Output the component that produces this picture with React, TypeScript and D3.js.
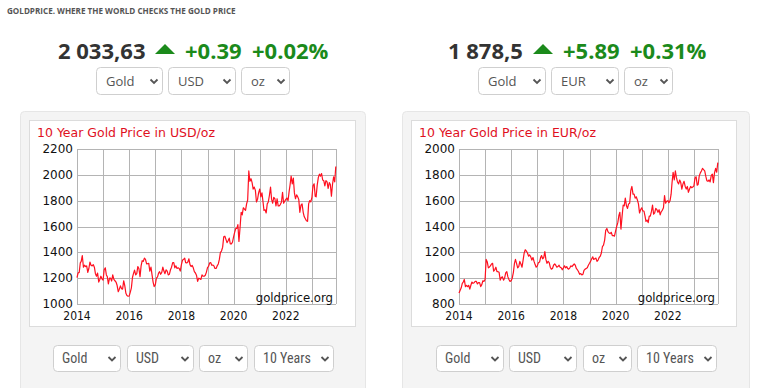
import React from 'react';
import * as d3 from 'd3';

const headline = 'GOLDPRICE. WHERE THE WORLD CHECKS THE GOLD PRICE';

// prices, twice a month (1st and 16th) from Jan 2014
const usdPrices = [
  // 2014
  1205, 1240, 1245, 1318, 1330, 1375, 1285, 1300, 1290, 1295, 1245, 1275,
  1325, 1300, 1295, 1305, 1285, 1235, 1215, 1240, 1170, 1190, 1215, 1195,
  // 2015
  1185, 1265, 1280, 1225, 1212, 1155, 1200, 1200, 1178, 1225, 1190, 1180,
  1170, 1145, 1095, 1115, 1140, 1118, 1115, 1180, 1140, 1083, 1065, 1060,
  // 2016
  1062, 1090, 1125, 1205, 1235, 1262, 1225, 1235, 1290, 1275, 1212, 1295,
  1335, 1330, 1355, 1345, 1310, 1312, 1315, 1255, 1285, 1225, 1170, 1135,
  // 2017
  1150, 1200, 1210, 1240, 1250, 1230, 1245, 1285, 1255, 1235, 1265, 1255,
  1225, 1230, 1265, 1285, 1320, 1320, 1280, 1295, 1275, 1280, 1275, 1255,
  // 2018
  1305, 1340, 1345, 1355, 1320, 1318, 1325, 1350, 1305, 1290, 1298, 1280,
  1250, 1240, 1220, 1175, 1200, 1195, 1190, 1225, 1215, 1215, 1222, 1245,
  // 2019
  1282, 1292, 1318, 1320, 1300, 1302, 1295, 1275, 1275, 1295, 1310, 1345,
  1400, 1410, 1440, 1520, 1525, 1500, 1475, 1490, 1510, 1465, 1465, 1478,
  // 2020
  1520, 1555, 1585, 1585, 1615, 1485, 1595, 1710, 1690, 1745, 1735, 1725,
  1775, 1805, 2030, 1950, 1970, 1940, 1890, 1905, 1880, 1790, 1810, 1860,
  // 2021
  1890, 1830, 1860, 1790, 1725, 1730, 1705, 1775, 1790, 1840, 1905, 1810,
  1780, 1825, 1815, 1760, 1815, 1760, 1760, 1770, 1790, 1865, 1780, 1795,
  // 2022
  1810, 1820, 1800, 1870, 1920, 1990, 1930, 1975, 1860, 1815, 1845, 1830,
  1810, 1710, 1765, 1775, 1710, 1675, 1660, 1645, 1640, 1775, 1800, 1790,
  // 2023
  1825, 1915, 1930, 1835, 1830, 1920, 1980, 2005, 1990, 2010, 1960, 1955,
  1915, 1955, 1945, 1895, 1940, 1925, 1835, 1925, 1985, 1945, 2065,
];

const eurPrices = [
  // 2014
  885, 905, 925, 960, 970, 990, 935, 945, 935, 945, 915, 945,
  970, 960, 965, 975, 975, 955, 965, 965, 935, 950, 980, 975,
  // 2015
  990, 1145, 1125, 1080, 1085, 1095, 1110, 1115, 1055, 1065, 1085, 1050,
  1050, 1045, 985, 1005, 1010, 985, 1000, 1040, 1050, 1010, 990, 975,
  // 2016
  980, 1000, 1045, 1115, 1145, 1115, 1080, 1090, 1130, 1110, 1085, 1140,
  1195, 1220, 1210, 1195, 1170, 1180, 1165, 1140, 1160, 1130, 1105, 1085,
  // 2017
  1095, 1120, 1125, 1160, 1175, 1150, 1160, 1205, 1145, 1115, 1130, 1120,
  1085, 1070, 1075, 1100, 1110, 1100, 1085, 1090, 1100, 1085, 1080, 1065,
  // 2018
  1080, 1095, 1080, 1090, 1075, 1070, 1080, 1095, 1090, 1100, 1110, 1100,
  1075, 1065, 1050, 1030, 1035, 1025, 1030, 1060, 1070, 1075, 1080, 1100,
  // 2019
  1115, 1130, 1150, 1165, 1145, 1150, 1155, 1130, 1140, 1160, 1170, 1195,
  1245, 1255, 1295, 1370, 1385, 1360, 1350, 1345, 1355, 1330, 1330, 1325,
  // 2020
  1365, 1400, 1430, 1485, 1510, 1380, 1480, 1565, 1560, 1620, 1560, 1540,
  1575, 1580, 1680, 1710, 1650, 1650, 1620, 1630, 1605, 1575, 1505, 1530,
  // 2021
  1545, 1520, 1520, 1480, 1440, 1450, 1430, 1480, 1480, 1515, 1565, 1495,
  1505, 1540, 1530, 1510, 1530, 1490, 1515, 1525, 1545, 1640, 1580, 1595,
  // 2022
  1600, 1585, 1600, 1650, 1740, 1820, 1760, 1830, 1780, 1745, 1730, 1760,
  1740, 1690, 1730, 1750, 1710, 1690, 1710, 1665, 1690, 1710, 1700, 1705,
  // 2023
  1715, 1775, 1785, 1720, 1725, 1790, 1815, 1830, 1850, 1840, 1830, 1790,
  1755, 1750, 1760, 1745, 1795, 1805, 1740, 1815, 1850, 1820, 1895,
];

const gridYears = [2014, 2015, 2016, 2017, 2018, 2019, 2020, 2021, 2022, 2023];
const yearLabels = [2014, 2016, 2018, 2020, 2022];
const usdTicks = [1000, 1200, 1400, 1600, 1800, 2000, 2200];
const eurTicks = [800, 1000, 1200, 1400, 1600, 1800, 2000];

const usdQuote = { price: '2 033,63', change: '+0.39', pct: '+0.02%' };
const eurQuote = { price: '1 878,5', change: '+5.89', pct: '+0.31%' };

const OPEN = '"Open Sans", "Noto Sans", sans-serif';
const VERD = '"DejaVu Sans", Verdana, sans-serif';
const VERD_C = '"DejaVu Sans Condensed", "DejaVu Sans", sans-serif';
const NARROW = '"Liberation Sans Narrow", "Roboto Condensed", "Liberation Sans", sans-serif';
const GREEN = '#1b8a1b';

const sampleDate = (i: number) => new Date(2014, Math.floor(i / 2), i % 2 ? 16 : 1);

function Select({ x, y, w, h, label, narrow = false }: any) {
  const cx = x + w - 9, cy = y + h / 2;
  return (
    <g>
      <rect x={x + 0.5} y={y + 0.5} width={w - 1} height={h - 1} rx={4}
        fill="#fff" stroke="#cfcfcf" />
      <text x={x + (narrow ? 9 : 10)} y={cy + 4.5} fontFamily={narrow ? NARROW : OPEN}
        fontSize={narrow ? 14 : 13} fill="#555">{label}</text>
      <polyline points={`${cx - 3.5},${cy - 1.5} ${cx},${cy + 2} ${cx + 3.5},${cy - 1.5}`}
        fill="none" stroke="#555" strokeWidth={1.8} />
    </g>
  );
}

function Quote({ x, q }: any) {
  const shift = q.price.length > 7 ? 12 : 0;
  return (
    <g fontFamily={OPEN} fontWeight={700} fontSize={22}>
      <text x={x} y={59} fill="#333">{q.price}</text>
      <path d={`M${x + 85 + shift},54 l10,-10 l10,10 z`} fill={GREEN} />
      <text x={x + 115 + shift} y={59} fill={GREEN}>{q.change}</text>
      <text x={x + 182 + shift} y={59} fill={GREEN}>{q.pct}</text>
    </g>
  );
}

function PriceChart({ px, left, currency, prices, ticks }: any) {
  const right = left + 259, top = 149, bottom = 304;
  const x = d3.scaleTime()
    .domain([new Date(2014, 0, 1), new Date(2023, 11, 4)])
    .range([left, right]);
  const y = d3.scaleLinear().domain([ticks[0], ticks[ticks.length - 1]]).range([bottom, top]);
  const line = d3.line<number>()
    .x((_, i) => x(sampleDate(i)))
    .y(d => y(d));

  return (
    <g>
      <rect x={px + 0.5} y={111.5} width={px > 300 ? 347 : 345} height={300} rx={4}
        fill="#f4f4f4" stroke="#e6e6e6" />
      <rect x={px + 9.5} y={120.5} width={px > 300 ? 325 : 326} height={206}
        fill="#fff" stroke="#dcdcdc" />
      <text x={px + 17} y={137} fontFamily={VERD} fontSize={12.5} fill="#e0101e">
        10 Year Gold Price in {currency}/oz
      </text>
      {ticks.map((t: number) => (
        <line key={t} x1={left} x2={right} y1={Math.round(y(t)) + 0.5} y2={Math.round(y(t)) + 0.5}
          stroke="#b4b4b4" />
      ))}
      {gridYears.map(yr => {
        const gx = Math.round(x(new Date(yr, 0, 1))) + 0.5;
        return <line key={yr} x1={gx} x2={gx} y1={top} y2={bottom} stroke="#b4b4b4" />;
      })}
      <line x1={right + 0.5} x2={right + 0.5} y1={top} y2={bottom} stroke="#b4b4b4" />
      {ticks.map((t: number) => (
        <text key={t} x={left - 4} y={y(t) + 4} textAnchor="end" fontFamily={VERD}
          fontSize={12} fill="#111">{t}</text>
      ))}
      {yearLabels.map(yr => (
        <text key={yr} x={x(new Date(yr, 0, 1))} y={320} textAnchor="middle"
          fontFamily={VERD_C} fontSize={12} fill="#111">{yr}</text>
      ))}
      <text x={right - 3} y={302} textAnchor="end" fontFamily={VERD_C} fontSize={13}
        fill="#111">goldprice.org</text>
      <path d={line(prices) || ''} fill="none" stroke="#ff1020" strokeWidth={1.2}
        strokeLinejoin="round" />
    </g>
  );
}

export default function App() {
  return (
    <svg width={758} height={388} style={{ position: 'absolute', left: 0, top: 0, background: '#fff' }}>
      <text x={7} y={14} fontFamily={OPEN} fontWeight={700} fontSize={8.1} fill="#555">{headline}</text>

      <Quote x={58} q={usdQuote} />
      <Select x={96} y={67} w={67} h={28} label="Gold" />
      <Select x={168} y={67} w={68} h={28} label="USD" />
      <Select x={241} y={67} w={49} h={28} label="oz" />

      <Quote x={448} q={eurQuote} />
      <Select x={478} y={67} w={68} h={28} label="Gold" />
      <Select x={551} y={67} w={68} h={28} label="EUR" />
      <Select x={624} y={67} w={49} h={28} label="oz" />

      <PriceChart px={20} left={77} currency="USD" prices={usdPrices} ticks={usdTicks} />
      <PriceChart px={402} left={459} currency="EUR" prices={eurPrices} ticks={eurTicks} />

      <Select x={53} y={345} w={68} h={27} label="Gold" narrow />
      <Select x={127} y={345} w={67} h={27} label="USD" narrow />
      <Select x={199} y={345} w={49} h={27} label="oz" narrow />
      <Select x={254} y={345} w={80} h={27} label="10 Years" narrow />

      <Select x={436} y={345} w={68} h={27} label="Gold" narrow />
      <Select x={509} y={345} w={68} h={27} label="USD" narrow />
      <Select x={583} y={345} w={49} h={27} label="oz" narrow />
      <Select x={637} y={345} w={80} h={27} label="10 Years" narrow />
    </svg>
  );
}
